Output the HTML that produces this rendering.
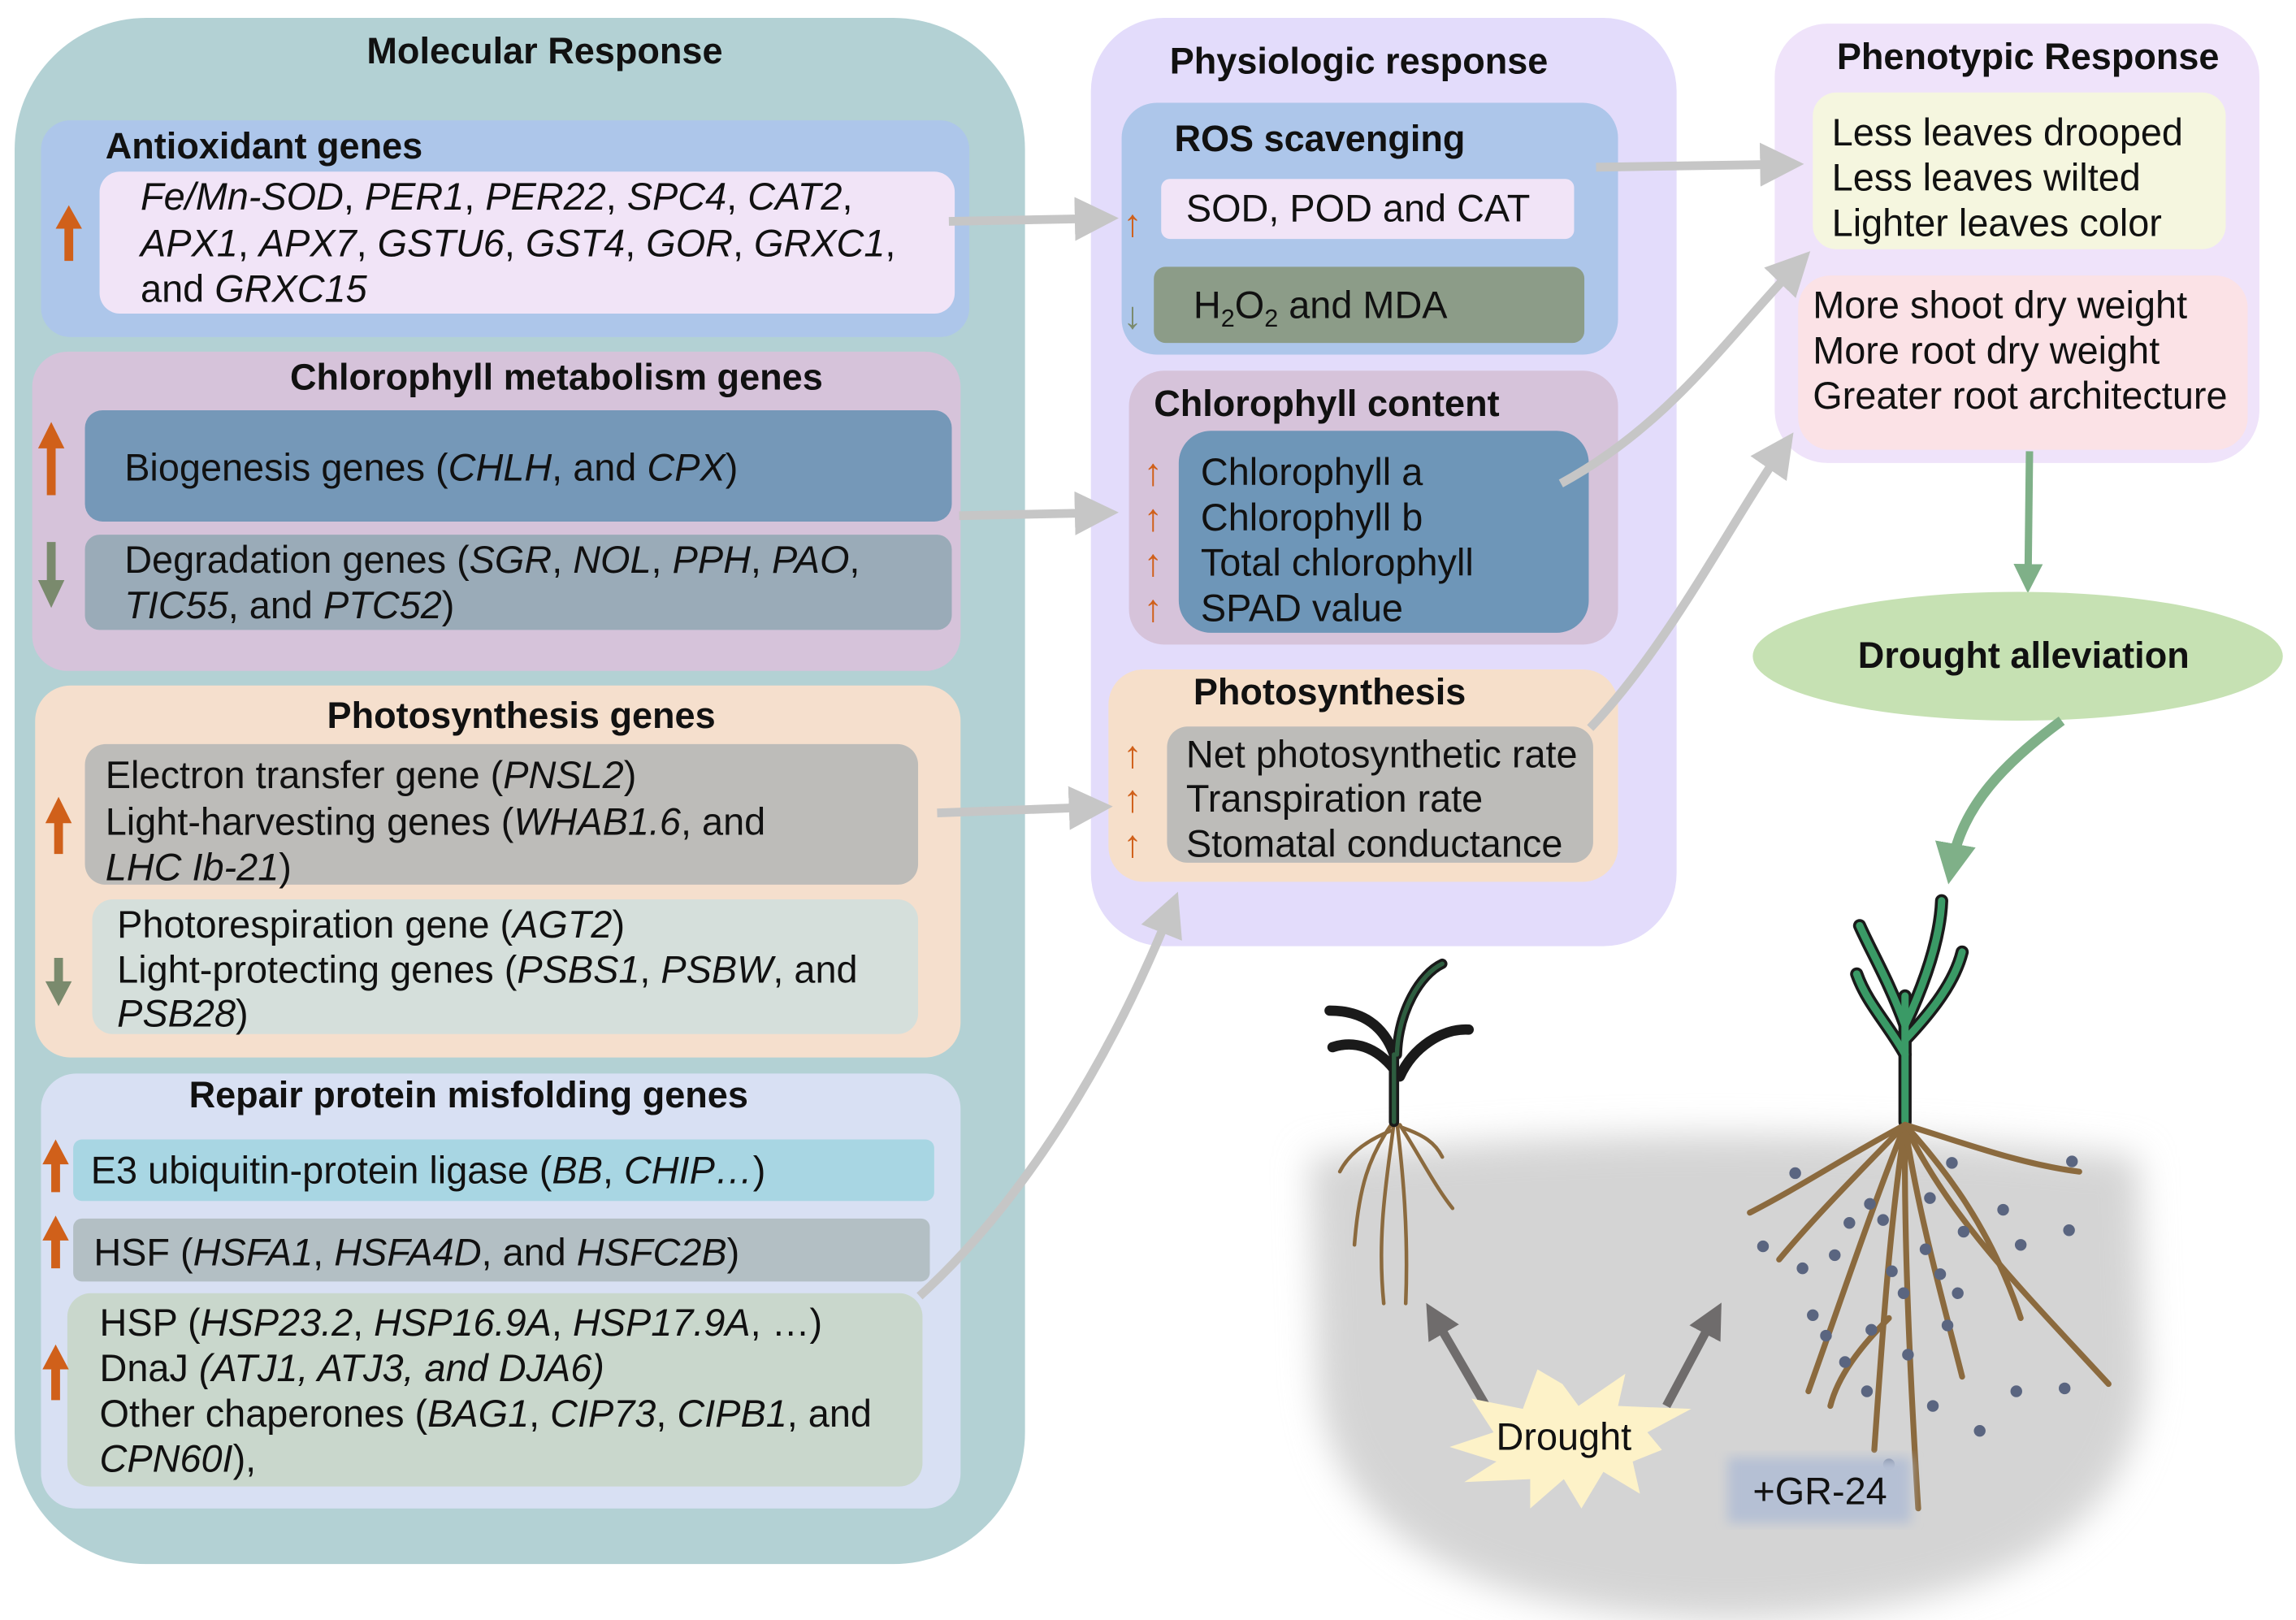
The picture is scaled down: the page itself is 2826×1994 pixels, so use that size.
<!DOCTYPE html>
<html><head><meta charset="utf-8"><style>
html,body{margin:0;padding:0;background:#fff;}
svg{display:block;}
text{font-family:"Liberation Sans",Arial,sans-serif;font-size:26px;fill:#111;}
.b{font-weight:bold;font-size:25px;}
</style></head><body>
<svg width="2826" height="1994" viewBox="0 0 1568 1106" xmlns="http://www.w3.org/2000/svg">
<defs>
<filter id="bl" x="-20%" y="-20%" width="140%" height="140%"><feGaussianBlur stdDeviation="12"/></filter>
<filter id="bl2"><feGaussianBlur stdDeviation="4"/></filter>
<marker id="ga" markerWidth="5" markerHeight="5" refX="3" refY="2.5" orient="auto" markerUnits="strokeWidth"><path d="M0,0 L5,2.5 L0,5 Z" fill="#c6c6c6"/></marker>
<marker id="da" markerWidth="4" markerHeight="4" refX="2" refY="2" orient="auto" markerUnits="strokeWidth"><path d="M0,0 L4,2 L0,4 Z" fill="#6f6c6c"/></marker>
<marker id="gr" markerWidth="4" markerHeight="4" refX="2" refY="2" orient="auto" markerUnits="strokeWidth"><path d="M0,0 L4,2 L0,4 Z" fill="#7fb088"/></marker>
</defs>

<!-- Molecular response -->
<rect x="10" y="12" width="690" height="1056" rx="90" fill="#b3d1d4"/>
<text x="372" y="43" class="b" text-anchor="middle">Molecular Response</text>

<rect x="28" y="82" width="634" height="148" rx="20" fill="#adc6ea"/>
<text x="72" y="108" class="b">Antioxidant genes</text>
<rect x="68" y="117" width="584" height="97" rx="14" fill="#f1e4f7"/>
<text x="96" y="143"><tspan font-style="italic">Fe/Mn-SOD</tspan>, <tspan font-style="italic">PER1</tspan>, <tspan font-style="italic">PER22</tspan>, <tspan font-style="italic">SPC4</tspan>, <tspan font-style="italic">CAT2</tspan>,</text>
<text x="96" y="175"><tspan font-style="italic">APX1</tspan>, <tspan font-style="italic">APX7</tspan>, <tspan font-style="italic">GSTU6</tspan>, <tspan font-style="italic">GST4</tspan>, <tspan font-style="italic">GOR</tspan>, <tspan font-style="italic">GRXC1</tspan>,</text>
<text x="96" y="206">and <tspan font-style="italic">GRXC15</tspan></text>

<rect x="22" y="240" width="634" height="218" rx="24" fill="#d6c3da"/>
<text x="380" y="266" class="b" text-anchor="middle">Chlorophyll metabolism genes</text>
<rect x="58" y="280" width="592" height="76" rx="12" fill="#7598b8"/>
<text x="85" y="328">Biogenesis genes (<tspan font-style="italic">CHLH</tspan>, and <tspan font-style="italic">CPX</tspan>)</text>
<rect x="58" y="365" width="592" height="65" rx="10" fill="#9aabb8"/>
<text x="85" y="391">Degradation genes (<tspan font-style="italic">SGR</tspan>, <tspan font-style="italic">NOL</tspan>, <tspan font-style="italic">PPH</tspan>, <tspan font-style="italic">PAO</tspan>,</text>
<text x="85" y="422"><tspan font-style="italic">TIC55</tspan>, and <tspan font-style="italic">PTC52</tspan>)</text>

<rect x="24" y="468" width="632" height="254" rx="24" fill="#f5dfcd"/>
<text x="356" y="497" class="b" text-anchor="middle">Photosynthesis genes</text>
<rect x="58" y="508" width="569" height="96" rx="14" fill="#bdbcb9"/>
<text x="72" y="538">Electron transfer gene (<tspan font-style="italic">PNSL2</tspan>)</text>
<text x="72" y="570">Light-harvesting genes (<tspan font-style="italic">WHAB1.6</tspan>, and</text>
<text x="72" y="601"><tspan font-style="italic">LHC Ib-21</tspan>)</text>
<rect x="63" y="614" width="564" height="92" rx="14" fill="#d5dfdb"/>
<text x="80" y="640">Photorespiration gene (<tspan font-style="italic">AGT2</tspan>)</text>
<text x="80" y="671">Light-protecting genes (<tspan font-style="italic">PSBS1</tspan>, <tspan font-style="italic">PSBW</tspan>, and</text>
<text x="80" y="701"><tspan font-style="italic">PSB28</tspan>)</text>

<rect x="28" y="733" width="628" height="297" rx="24" fill="#d8e0f3"/>
<text x="320" y="756" class="b" text-anchor="middle">Repair protein misfolding genes</text>
<rect x="50" y="778" width="588" height="42" rx="6" fill="#a8d6e3"/>
<text x="62" y="808">E3 ubiquitin-protein ligase (<tspan font-style="italic">BB</tspan>, <tspan font-style="italic">CHIP…</tspan>)</text>
<rect x="50" y="832" width="585" height="43" rx="6" fill="#b3bfc4"/>
<text x="64" y="864">HSF (<tspan font-style="italic">HSFA1</tspan>, <tspan font-style="italic">HSFA4D</tspan>, and <tspan font-style="italic">HSFC2B</tspan>)</text>
<rect x="46" y="883" width="584" height="132" rx="16" fill="#c9d7cc"/>
<text x="68" y="912">HSP (<tspan font-style="italic">HSP23.2</tspan>, <tspan font-style="italic">HSP16.9A</tspan>, <tspan font-style="italic">HSP17.9A</tspan>, …)</text>
<text x="68" y="943">DnaJ <tspan font-style="italic">(ATJ1, ATJ3, and DJA6)</tspan></text>
<text x="68" y="974">Other chaperones (<tspan font-style="italic">BAG1</tspan>, <tspan font-style="italic">CIP73</tspan>, <tspan font-style="italic">CIPB1</tspan>, and</text>
<text x="68" y="1005"><tspan font-style="italic">CPN60I</tspan>),</text>

<!-- big up/down arrows -->
<g fill="#d0601a">
<path d="M47,140 L56,156 L50,156 L50,178 L44,178 L44,156 L38,156 Z"/>
<path d="M35,288 L44,306 L38,306 L38,338 L32,338 L32,306 L26,306 Z"/>
<path d="M40,544 L49,562 L43,562 L43,583 L37,583 L37,562 L31,562 Z"/>
<path d="M38,778 L47,795 L41,795 L41,814 L35,814 L35,795 L29,795 Z"/>
<path d="M38,830 L47,847 L41,847 L41,866 L35,866 L35,847 L29,847 Z"/>
<path d="M38,918 L47,935 L41,935 L41,956 L35,956 L35,935 L29,935 Z"/>
</g>
<g fill="#7a8a6d">
<path d="M32,370 L38,370 L38,396 L44,396 L35,415 L26,396 L32,396 Z"/>
<path d="M37,654 L43,654 L43,670 L49,670 L40,687 L31,670 L37,670 Z"/>
</g>

<!-- Physiologic -->
<rect x="745" y="12" width="400" height="634" rx="50" fill="#e3dcfb"/>
<text x="928" y="50" class="b" text-anchor="middle">Physiologic response</text>
<rect x="766" y="70" width="339" height="172" rx="24" fill="#adc6ea"/>
<text x="802" y="103" class="b">ROS scavenging</text>
<rect x="793" y="122" width="282" height="41" rx="6" fill="#f1e4f7"/>
<text x="810" y="151">SOD, POD and CAT</text>
<rect x="788" y="182" width="294" height="52" rx="8" fill="#8c9c88"/>
<text x="815" y="217">H<tspan font-size="17" dy="6">2</tspan><tspan dy="-6">O</tspan><tspan font-size="17" dy="6">2</tspan><tspan dy="-6"> and MDA</tspan></text>

<rect x="771" y="253" width="334" height="187" rx="24" fill="#d6c3da"/>
<text x="788" y="284" class="b">Chlorophyll content</text>
<rect x="805" y="294" width="280" height="138" rx="22" fill="#6e96b8"/>
<text x="820" y="331">Chlorophyll a</text>
<text x="820" y="362">Chlorophyll b</text>
<text x="820" y="393">Total chlorophyll</text>
<text x="820" y="424">SPAD value</text>

<rect x="757" y="457" width="348" height="145" rx="24" fill="#f6dfca"/>
<text x="815" y="481" class="b">Photosynthesis</text>
<rect x="797" y="496" width="291" height="93" rx="14" fill="#bdbcb9"/>
<text x="810" y="524">Net photosynthetic rate</text>
<text x="810" y="554">Transpiration rate</text>
<text x="810" y="585">Stomatal conductance</text>

<g>
<text x="767" y="161" font-size="24" style="fill:#d0601a">↑</text>
<text x="767" y="224" font-size="24" style="fill:#7a8a6d">↓</text>
<text x="781" y="331" font-size="24" style="fill:#d0601a">↑</text>
<text x="781" y="362" font-size="24" style="fill:#d0601a">↑</text>
<text x="781" y="393" font-size="24" style="fill:#d0601a">↑</text>
<text x="781" y="424" font-size="24" style="fill:#d0601a">↑</text>
<text x="767" y="524" font-size="24" style="fill:#d0601a">↑</text>
<text x="767" y="554" font-size="24" style="fill:#d0601a">↑</text>
<text x="767" y="585" font-size="24" style="fill:#d0601a">↑</text>
</g>

<!-- Phenotypic -->
<rect x="1212" y="16" width="331" height="300" rx="36" fill="#efe3fa"/>
<text x="1385" y="47" class="b" text-anchor="middle">Phenotypic Response</text>
<rect x="1238" y="63" width="282" height="107" rx="16" fill="#f5f6df"/>
<text x="1251" y="99">Less leaves drooped</text>
<text x="1251" y="130">Less leaves wilted</text>
<text x="1251" y="161">Lighter leaves color</text>
<rect x="1228" y="188" width="307" height="119" rx="22" fill="#fbe2e6"/>
<text x="1238" y="217">More shoot dry weight</text>
<text x="1238" y="248">More root dry weight</text>
<text x="1238" y="279">Greater root architecture</text>

<!-- green arrows & ellipse -->
<line x1="1386" y1="308" x2="1385" y2="395" stroke="#7fb088" stroke-width="5" marker-end="url(#gr)"/>
<ellipse cx="1378" cy="448" rx="181" ry="44" fill="#c6e1b3"/>
<text x="1382" y="456" class="b" text-anchor="middle">Drought alleviation</text>
<path d="M1408,492 C1370,520 1340,550 1333,590" fill="none" stroke="#7fb088" stroke-width="7" marker-end="url(#gr)"/>

<!-- gray connectors -->
<g fill="none" stroke="#c6c6c6" stroke-width="6">
<line x1="648" y1="151" x2="752" y2="149" marker-end="url(#ga)"/>
<line x1="655" y1="352" x2="752" y2="350" marker-end="url(#ga)"/>
<line x1="640" y1="555" x2="748" y2="551" marker-end="url(#ga)"/>
<path d="M628,885 C700,820 760,720 800,620" marker-end="url(#ga)"/>
<line x1="1090" y1="114" x2="1220" y2="112" marker-end="url(#ga)"/>
<path d="M1066,330 C1140,290 1180,230 1228,180" marker-end="url(#ga)"/>
<path d="M1086,497 C1140,440 1180,360 1218,305" marker-end="url(#ga)"/>
</g>

<!-- soil -->
<path d="M895,790 Q1180,760 1460,790 L1465,940 Q1455,1100 1180,1106 Q910,1100 900,940 Z" fill="#d4d4d4" filter="url(#bl)"/>

<!-- small plant -->
<g stroke-linecap="round" fill="none">
<g stroke="#8b6a3e" stroke-width="2.5">
<path d="M952,766 C948,800 940,840 945,890"/>
<path d="M954,766 C958,800 962,840 960,890"/>
<path d="M950,768 C935,790 928,810 925,850"/>
<path d="M956,768 C970,790 980,810 992,825"/>
<path d="M950,772 C930,780 920,790 915,800"/>
<path d="M958,770 C972,775 980,780 985,790"/>
</g>
<g stroke="#1a1a1a" stroke-width="7">
<path d="M952,766 L952,720 C945,700 930,690 908,690"/>
<path d="M952,730 C940,715 925,710 910,715"/>
<path d="M954,720 C955,690 970,665 985,658"/>
<path d="M956,735 C965,715 985,702 1003,703"/>
</g>
<g stroke="#2e5e40" stroke-width="3">
<path d="M952,766 L952,720"/>
<path d="M954,720 C955,690 970,665 985,658"/>
</g>
</g>

<!-- big plant -->
<g stroke-linecap="round" fill="none">
<g stroke="#1a1a1a" stroke-width="9">
<path d="M1301,766 L1301,680"/>
<path d="M1301,700 C1290,670 1278,650 1270,632"/>
<path d="M1301,700 C1315,670 1325,640 1326,615"/>
<path d="M1301,710 C1320,690 1335,670 1340,650"/>
<path d="M1301,720 C1290,700 1275,685 1268,665"/>
</g>
<g stroke="#3a9a66" stroke-width="5">
<path d="M1301,766 L1301,680"/>
<path d="M1301,700 C1290,670 1278,650 1270,632"/>
<path d="M1301,700 C1315,670 1325,640 1326,615"/>
<path d="M1301,710 C1320,690 1335,670 1340,650"/>
<path d="M1301,720 C1290,700 1275,685 1268,665"/>
</g>
<g stroke="#8b6a3e" stroke-width="4">
<path d="M1301,768 C1300,850 1305,950 1310,1030"/>
<path d="M1301,768 C1280,820 1260,880 1235,950"/>
<path d="M1301,768 C1330,830 1380,880 1440,945"/>
<path d="M1301,768 C1260,790 1230,810 1195,828"/>
<path d="M1301,768 C1340,780 1380,795 1420,800"/>
<path d="M1301,768 C1290,840 1285,920 1280,990"/>
<path d="M1301,768 C1310,830 1330,900 1340,940"/>
<path d="M1301,768 C1270,800 1240,830 1215,860"/>
<path d="M1290,900 C1270,920 1255,940 1250,960"/>
<path d="M1301,768 C1330,800 1360,840 1380,900"/>
</g>
<g fill="#5a6580" stroke="none">
<circle cx="1226" cy="801" r="4"/><circle cx="1318" cy="818" r="4"/><circle cx="1277" cy="822" r="4"/><circle cx="1263" cy="835" r="4"/><circle cx="1333" cy="794" r="4"/><circle cx="1368" cy="826" r="4"/><circle cx="1415" cy="793" r="4"/><circle cx="1380" cy="850" r="4"/><circle cx="1413" cy="840" r="4"/><circle cx="1204" cy="851" r="4"/><circle cx="1231" cy="866" r="4"/><circle cx="1253" cy="857" r="4"/><circle cx="1292" cy="868" r="4"/><circle cx="1300" cy="883" r="4"/><circle cx="1325" cy="870" r="4"/><circle cx="1337" cy="883" r="4"/><circle cx="1278" cy="908" r="4"/><circle cx="1260" cy="930" r="4"/><circle cx="1303" cy="925" r="4"/><circle cx="1290" cy="1000" r="4"/><circle cx="1352" cy="977" r="4"/><circle cx="1315" cy="853" r="4"/><circle cx="1286" cy="833" r="4"/><circle cx="1247" cy="912" r="4"/><circle cx="1377" cy="950" r="4"/><circle cx="1410" cy="948" r="4"/><circle cx="1320" cy="960" r="4"/><circle cx="1238" cy="898" r="4"/><circle cx="1275" cy="950" r="4"/><circle cx="1341" cy="841" r="4"/><circle cx="1330" cy="905" r="4"/></g>
</g>

<!-- drought -->
<line x1="1016" y1="962" x2="980" y2="900" stroke="#6f6c6c" stroke-width="6" marker-end="url(#da)"/>
<line x1="1138" y1="960" x2="1170" y2="900" stroke="#6f6c6c" stroke-width="6" marker-end="url(#da)"/>
<path d="M1067,945 L1078,960 L1110,938 L1105,960 L1155,962 L1125,978 L1135,990 L1115,998 L1120,1020 L1095,1005 L1080,1030 L1068,1010 L1045,1030 L1045,1010 L1000,1012 L1022,998 L990,988 L1020,978 L1005,955 L1040,962 L1050,935 Z" fill="#fdf2c8"/>
<text x="1068" y="990" text-anchor="middle">Drought</text>

<rect x="1180" y="995" width="125" height="45" fill="#b5c0d4" filter="url(#bl2)"/>
<text x="1197" y="1027">+GR-24</text>
</svg>
</body></html>
